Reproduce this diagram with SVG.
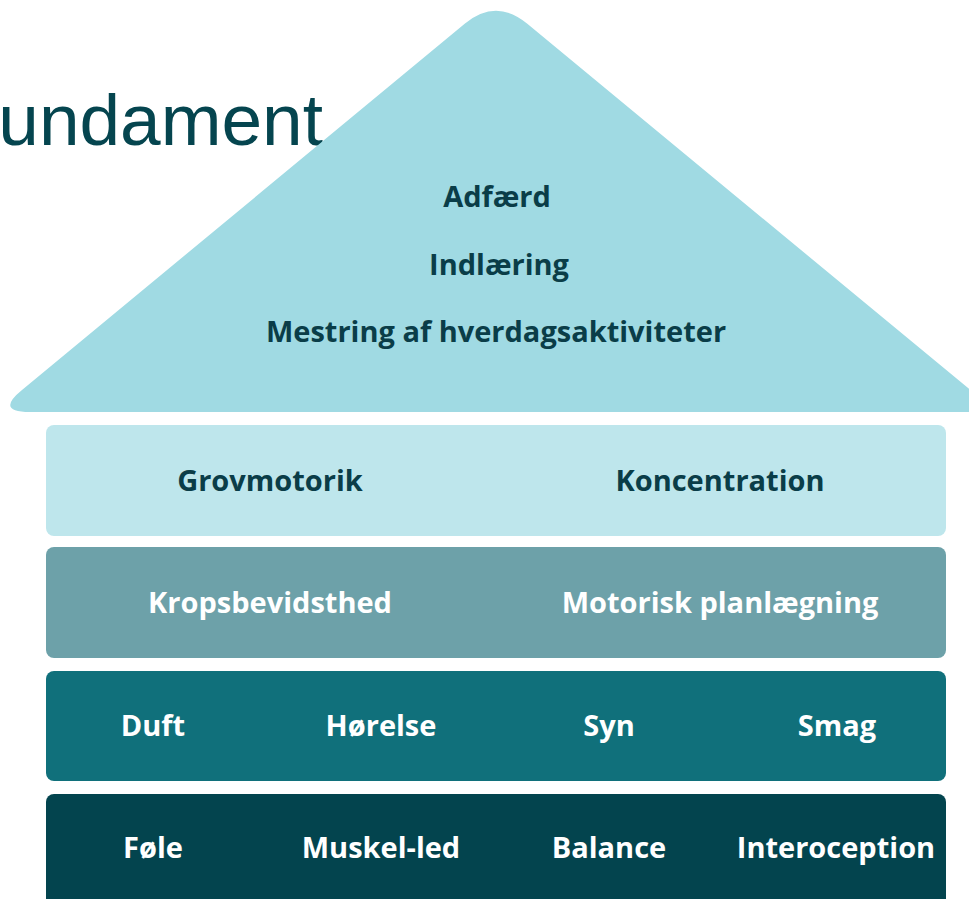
<svg xmlns="http://www.w3.org/2000/svg" width="969" height="899" viewBox="0 0 969 899">
<style>
.lbl{font-family:"Open Sans","Noto Sans","DejaVu Sans",sans-serif;font-weight:700;font-size:29px;text-anchor:middle}
.dk{fill:#0A3D48}
.wt{fill:#FFFFFF}
.title{font-family:"Liberation Sans",Arial,sans-serif;font-size:73px;fill:#05454F;text-anchor:end}
</style>
<rect width="969" height="899" fill="#FFFFFF"/>
<text class="title" x="323" y="145">undament</text>
<g id="roof">
<path d="M30,412 L997,412 L527,23.5 Q496,-2 465,23.5 L22,390 Q-5,412 30,412 Z" fill="#A0DAE3"/>
<text class="lbl dk" x="497" y="207">Adfærd</text>
<text class="lbl dk" x="499" y="275">Indlæring</text>
<text class="lbl dk" x="496" y="342">Mestring af hverdagsaktiviteter</text>
</g>
<g id="row1">
<rect x="46" y="425" width="900" height="111" rx="8" fill="#BEE6EC"/>
<text class="lbl dk" x="270" y="491">Grovmotorik</text>
<text class="lbl dk" x="720" y="491">Koncentration</text>
</g>
<g id="row2">
<rect x="46" y="547" width="900" height="111" rx="8" fill="#6DA1A9"/>
<text class="lbl wt" x="270" y="613">Kropsbevidsthed</text>
<text class="lbl wt" x="720" y="613">Motorisk planlægning</text>
</g>
<g id="row3">
<rect x="46" y="671" width="900" height="110" rx="8" fill="#10707B"/>
<text class="lbl wt" x="153" y="736">Duft</text>
<text class="lbl wt" x="381" y="736">Hørelse</text>
<text class="lbl wt" x="609" y="736">Syn</text>
<text class="lbl wt" x="837" y="736">Smag</text>
</g>
<g id="row4">
<rect x="46" y="794" width="900" height="120" rx="8" fill="#03444E"/>
<text class="lbl wt" x="153" y="858">Føle</text>
<text class="lbl wt" x="381" y="858">Muskel-led</text>
<text class="lbl wt" x="609" y="858">Balance</text>
<text class="lbl wt" x="836" y="858">Interoception</text>
</g>
<g id="connectors"></g>
</svg>
